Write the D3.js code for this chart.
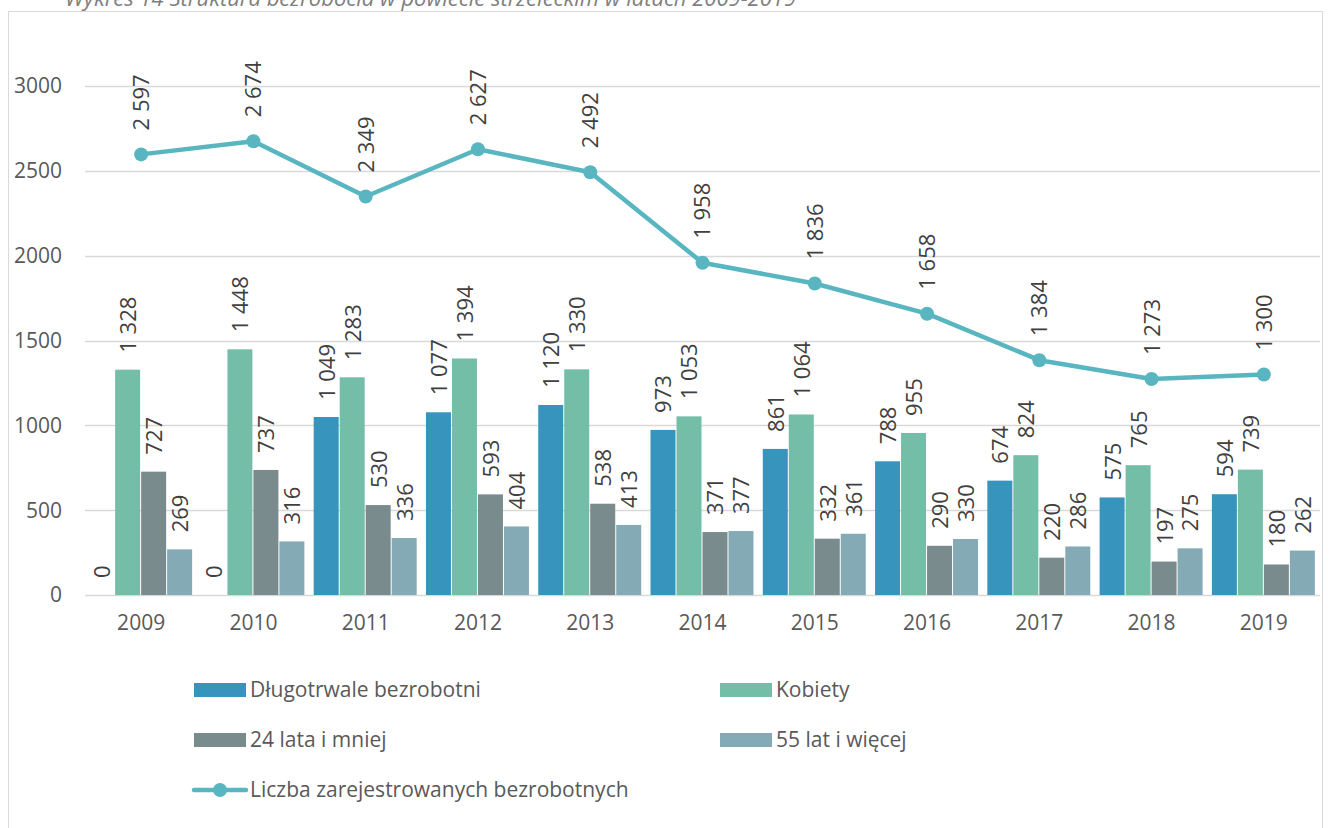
<!DOCTYPE html>
<html><head><meta charset="utf-8">
<script src="https://cdn.jsdelivr.net/npm/d3@7/dist/d3.min.js"></script>
<style>body{margin:0;background:#fff;}svg{display:block;font-family:"Open Sans",sans-serif;}</style>
</head><body>
<script>
const years = ["2009","2010","2011","2012","2013","2014","2015","2016","2017","2018","2019"];
const seriesNames = ["Długotrwale bezrobotni","Kobiety","24 lata i mniej","55 lat i więcej"];
const dlugotrwale = [0,0,1049,1077,1120,973,861,788,674,575,594];
const kobiety = [1328,1448,1283,1394,1330,1053,1064,955,824,765,739];
const mlodzi = [727,737,530,593,538,371,332,290,220,197,180];
const starsi = [269,316,336,404,413,377,361,330,286,275,262];
const lineName = "Liczba zarejestrowanych bezrobotnych";
const ogolem = [2597,2674,2349,2627,2492,1958,1836,1658,1384,1273,1300];
const yTicks = [0,500,1000,1500,2000,2500,3000];
const title = "Wykres 14 Struktura bezrobocia w powiecie strzeleckim w latach 2009-2019";

const colors = ["#3794BC","#74BDA6","#7A8B8D","#84ABB5"];
const lineColor = "#59B6C1";
const barSeries = [dlugotrwale,kobiety,mlodzi,starsi];

const W=1336,H=828;
const svg=d3.select("body").append("svg").attr("width",W).attr("height",H);
svg.append("rect").attr("x",8.5).attr("y",11.5).attr("width",1314).attr("height",830).attr("fill","#fff").attr("stroke","#D9D9D9");
svg.append("text").attr("x",65).attr("y",6).attr("font-size",22).attr("font-style","italic").attr("fill","#7F7F7F").text(title);

const fmt = v => d3.format(",")(v).replace(/,/g," ");
const x = d3.scaleBand().domain(years).range([85,1320]).paddingInner(0.074).paddingOuter(0.037);
const x1 = d3.scaleBand().domain(d3.range(4)).range([0,x.bandwidth()]);
const y = d3.scaleLinear().domain([0,3000]).range([595,86]);

// grid
svg.append("g").selectAll("line").data(yTicks).join("line")
  .attr("x1",85).attr("x2",1320).attr("y1",d=>Math.round(y(d))+0.5).attr("y2",d=>Math.round(y(d))+0.5)
  .attr("stroke","#D9D9D9").attr("stroke-width",1.3);
svg.append("g").selectAll("text").data(yTicks).join("text")
  .attr("x",62).attr("y",d=>y(d)).attr("dy","0.35em").attr("text-anchor","end")
  .attr("font-size",21).attr("fill","#595959").text(d=>d);

// x labels
const xAxis = svg.append("g").attr("transform","translate(0,595)").call(d3.axisBottom(x).tickSize(0).tickPadding(20));
xAxis.select(".domain").remove();
xAxis.selectAll("text").attr("font-size",21).attr("fill","#595959").attr("font-family","'Open Sans',sans-serif");

// bars
barSeries.forEach((vals,si)=>{
  const g=svg.append("g");
  g.selectAll("rect").data(vals).join("rect")
    .attr("x",(d,i)=>x(years[i])+x1(si)).attr("width",x1.bandwidth()-1)
    .attr("y",d=>y(d)).attr("height",d=>y(0)-y(d)).attr("fill",colors[si]);
  g.selectAll("text").data(vals).join("text")
    .attr("transform",(d,i)=>`translate(${x(years[i])+x1(si)+x1.bandwidth()/2},${y(d)-17}) rotate(-90)`)
    .attr("dy","0.36em").attr("font-size",22).attr("fill","#404040").text(d=>fmt(d));
});

// line
const px=(d,i)=>x(years[i])+x.bandwidth()/2;
svg.append("path").datum(ogolem).attr("fill","none").attr("stroke",lineColor).attr("stroke-width",4.5)
  .attr("stroke-linejoin","round").attr("d",d3.line().x(px).y(d=>y(d)));
svg.append("g").selectAll("circle").data(ogolem).join("circle")
  .attr("cx",px).attr("cy",d=>y(d)).attr("r",7).attr("fill",lineColor);
svg.append("g").selectAll("text").data(ogolem).join("text")
  .attr("transform",(d,i)=>`translate(${px(d,i)},${y(d)-24}) rotate(-90)`)
  .attr("dy","0.36em").attr("font-size",22).attr("fill","#404040").text(d=>fmt(d));

// legend
const leg=[[0,194,690],[1,720,690],[2,194,740],[3,720,740]];
leg.forEach(([si,lx,ly])=>{
  svg.append("rect").attr("x",lx).attr("y",ly-7).attr("width",52).attr("height",14).attr("fill",colors[si]);
  svg.append("text").attr("x",lx+56).attr("y",ly).attr("dy","0.35em").attr("font-size",21).attr("fill","#595959").text(seriesNames[si]);
});
svg.append("line").attr("x1",194).attr("x2",246).attr("y1",790).attr("y2",790).attr("stroke",lineColor).attr("stroke-width",4.5).attr("stroke-linecap","round");
svg.append("circle").attr("cx",220).attr("cy",790).attr("r",7).attr("fill",lineColor);
svg.append("text").attr("x",250).attr("y",790).attr("dy","0.35em").attr("font-size",21).attr("fill","#595959").text(lineName);
</script>
</body></html>
